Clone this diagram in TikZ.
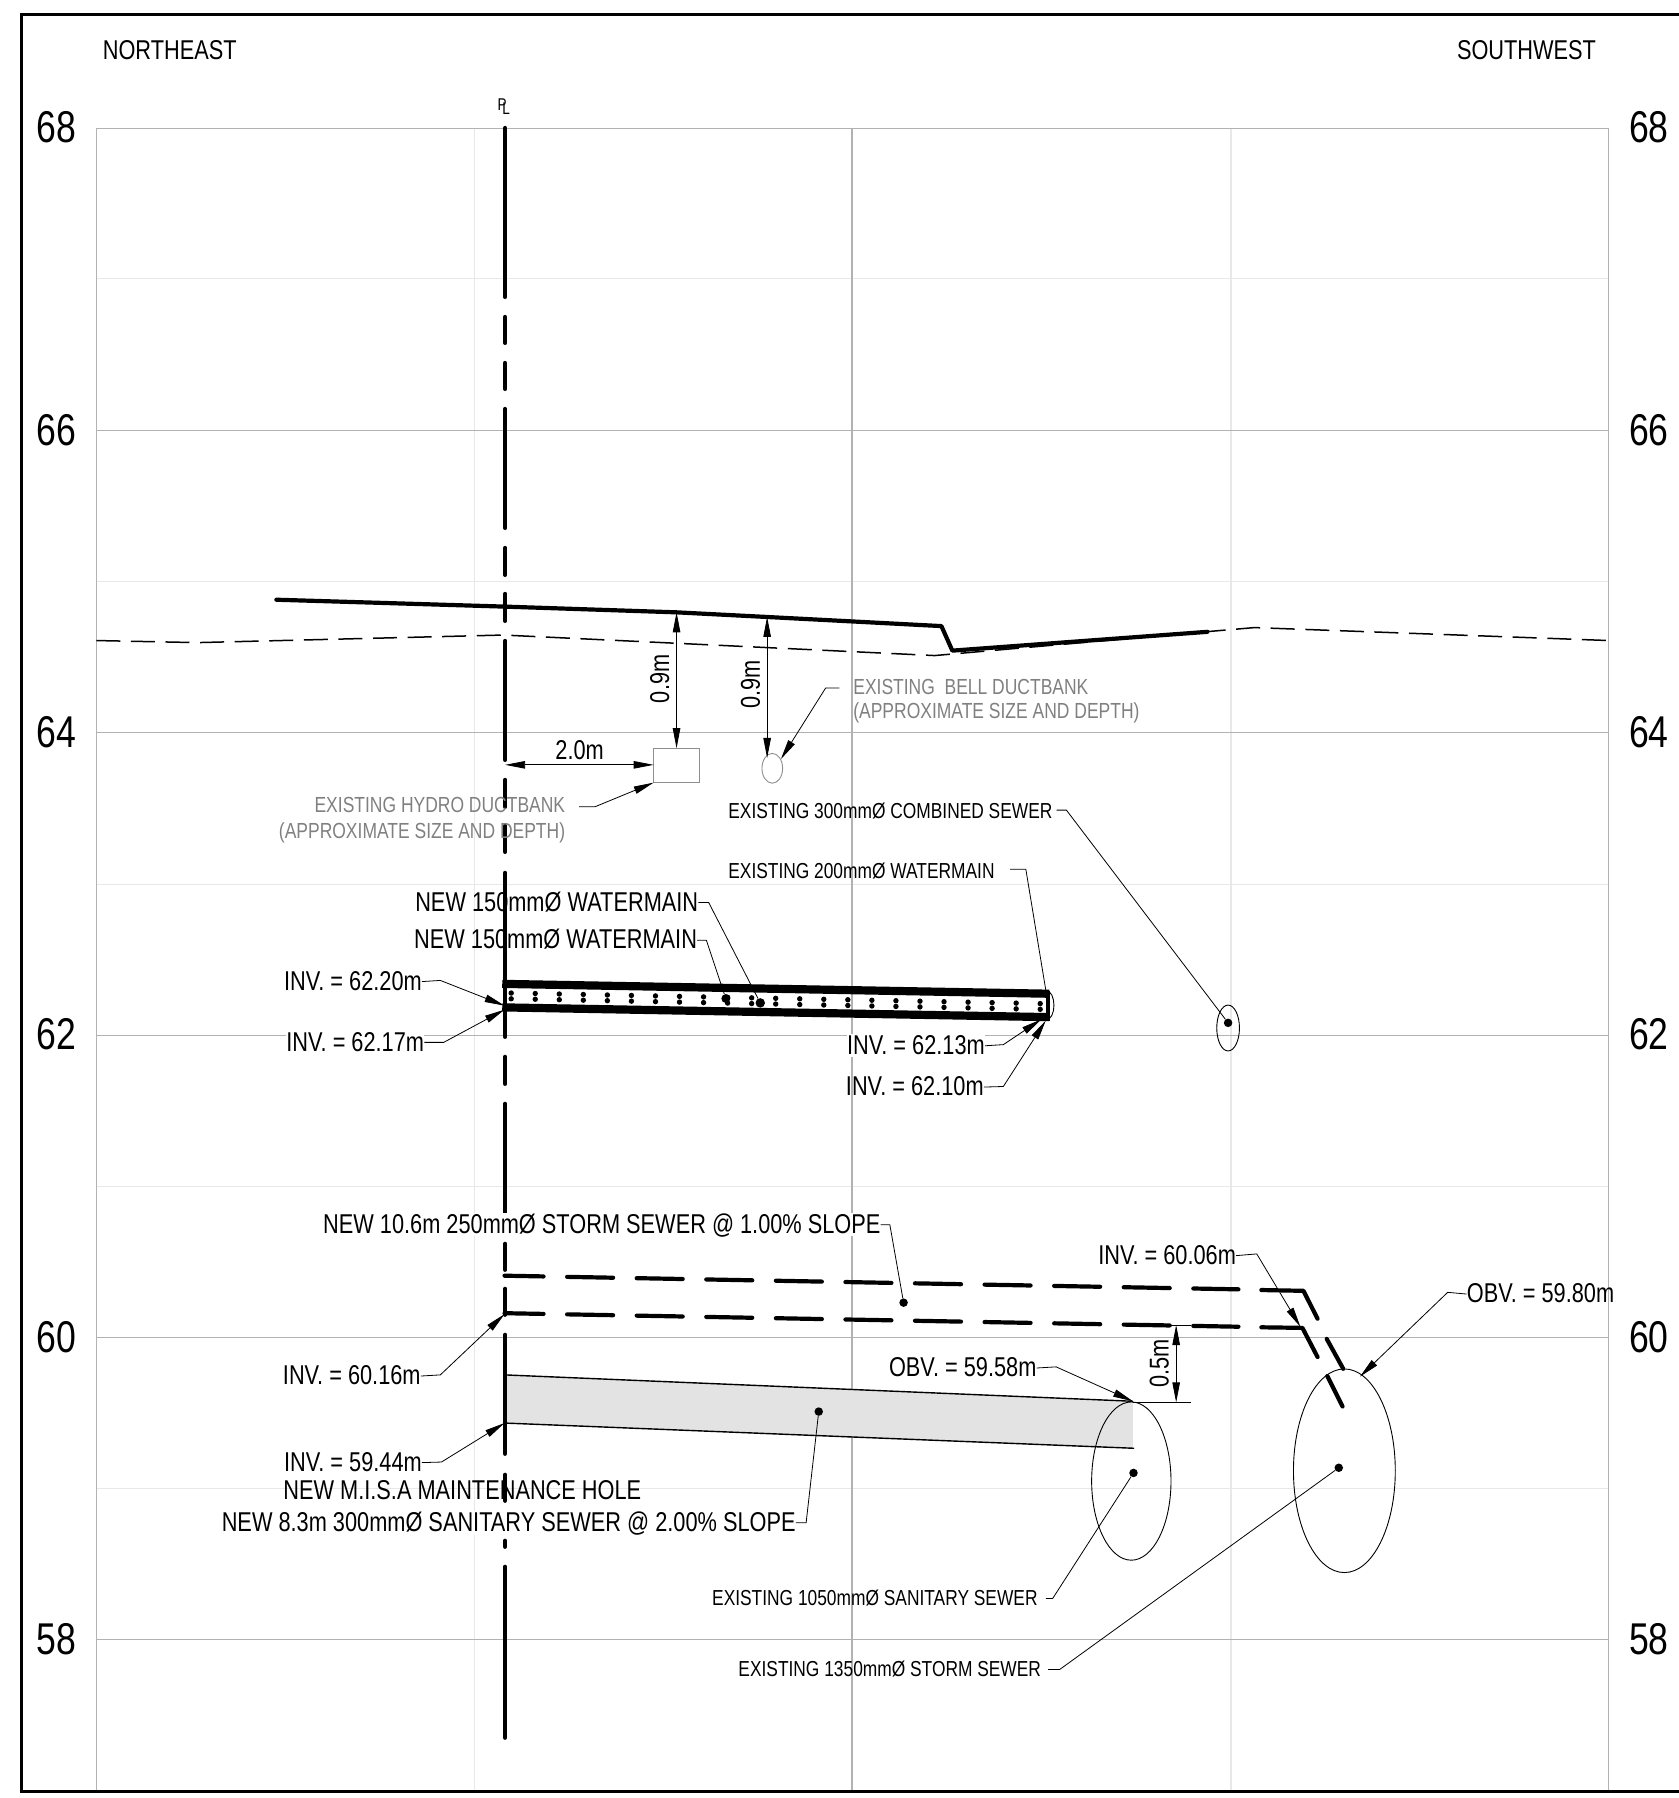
\documentclass[tikz,border=0pt]{standalone}
\usepackage{fontspec}
\setmainfont[FakeStretch=0.8]{Liberation Sans}
\usetikzlibrary{arrows.meta}
\definecolor{gridmaj}{HTML}{B2B2B2}
\definecolor{gridmin}{HTML}{E8E8E8}
\definecolor{txtgray}{HTML}{808080}
\definecolor{pipegray}{HTML}{E3E3E3}
\tikzset{
  lab/.style={inner sep=0pt,text height=19.4pt,text depth=2pt,font=\fontsize{27.2}{27.2}\selectfont},
  labs/.style={inner sep=0pt,text height=15.8pt,text depth=1pt,font=\fontsize{21.7}{21.7}\selectfont},
  labg/.style={inner sep=0pt,text height=15.5pt,text depth=1pt,text=txtgray,font=\fontsize{21.85}{21.85}\selectfont},
  axlab/.style={inner sep=0pt,text height=31.5pt,text depth=2.5pt,font=\fontsize{44.5}{44.5}\selectfont},
  masked/.style={fill=white,inner ysep=1pt,inner xsep=0pt},
  major/.style={draw=gridmaj,line width=1.1pt},
  minor/.style={draw=gridmin,line width=1.1pt},
  lead/.style={line width=0.8pt,black},
  arr/.style={-{Triangle[length=20pt,width=7.5pt]}},
  dimn/.style={line width=0.8pt,black,{Triangle[length=20pt,width=7.5pt]}-{Triangle[length=20pt,width=7.5pt]}},
  thickl/.style={line width=4.2pt,line cap=round,line join=round},
  stormd/.style={line width=4.2pt,line cap=round,dash pattern=on 46pt off 23.6pt,dash phase=7pt},
  grade/.style={line width=1.5pt,dash pattern=on 24pt off 10.6pt},
  thinell/.style={line width=0.9pt,black},
  dot/.style={fill=black,circle,inner sep=0pt,minimum size=8.5pt}
}
\begin{document}
\begin{tikzpicture}[x=1.14686pt,y=-1.14686pt]
\useasboundingbox (0,0) rectangle (1464,1568);
% grid
\foreach \yy in {243,507,771,1034.5,1298}{\draw[minor] (84,\yy) -- (1403,\yy);}
\foreach \xx in {414,1073.5}{\draw[minor] (\xx,112) -- (\xx,1562);}
\foreach \yy in {112,375.5,639,903,1166.5,1430}{\draw[major] (84,\yy) -- (1403,\yy);}
\foreach \xx in {84,743,1403}{\draw[major] (\xx,112) -- (\xx,1562);}
% frame
\draw[line width=3pt,black] (1464,13) -- (19,13) -- (19,1562) -- (1464,1562);
% axis labels
\node[axlab] (a68) at (49,112) {68};   \node[axlab] (b68) at (1438,112) {68};
\node[axlab] (a66) at (49,375.5) {66}; \node[axlab] (b66) at (1438,375.5) {66};
\node[axlab] (a64) at (49,639) {64};   \node[axlab] (b64) at (1438,639) {64};
\node[axlab] (a62) at (49,903) {62};   \node[axlab] (b62) at (1438,903) {62};
\node[axlab] (a60) at (49,1166.5) {60};\node[axlab] (b60) at (1438,1166.5) {60};
\node[axlab] (a58) at (49,1430) {58};  \node[axlab] (b58) at (1438,1430) {58};
\node[lab,anchor=west] (ne) at (89.5,44) {NORTHEAST};
\node[lab,anchor=east] (sw) at (1392,44) {SOUTHWEST};
% sanitary pipe fill
\fill[pipegray] (440,1199) -- (988,1222) -- (988,1263) -- (440,1241) -- cycle;
% property line (full pixel coordinates)
\begin{scope}[x=1pt,y=-1pt]
\foreach \aa/\bb in {128/297,317/343,363/389,409/528,548/575,594/621,641/760,780/807,826/852,873/992,1012/1037,1057/1084,1104/1213,1244/1270,1289/1315,1335/1454,1475/1501,1541/1547,1567/1738}
  {\draw[thickl] (505.2,\aa) -- (505.2,\bb);}
\end{scope}
\node[inner sep=0pt,font=\fontsize{17}{17}\selectfont] (plp) at (438,91) {P};
\node[inner sep=0pt,font=\fontsize{17}{17}\selectfont] (pll) at (441.5,95) {L};
% ground
\draw[thickl] (241,523) -- (440,529) -- (590,534) -- (668,538) -- (821,546) -- (830.5,567.4) -- (1053,551);
\draw[grade] (84,558.6) -- (172,560.4) -- (439,553.8) -- (815,571.7) -- (1053,550.8) -- (1094,547.3) -- (1403,558.6);
% hydro and bell
\draw[draw=gridmaj!80!black,line width=0.9pt] (570,652.5) rectangle (610,682.5);
\draw[draw=gridmaj!80!black,line width=0.9pt] (673.5,670) ellipse [x radius=9,y radius=13];
\coordinate (gr1) at (590,534);
\coordinate (box1) at (590,652.5);
\coordinate (gr2) at (669,538);
\coordinate (bell1) at (669,661);
\coordinate (pl1) at (440.5,667);
\coordinate (box2) at (570,667);
\draw[dimn] (gr1) -- (box1);
\draw[dimn] (gr2) -- (bell1);
\draw[dimn] (pl1) -- (box2);
\node[lab,rotate=90] (d1) at (576,592) {0.9m};
\node[lab,rotate=90] (d2) at (655,597) {0.9m};
\node[lab] (d3) at (505.5,654.5) {2.0m};
\node[labg,anchor=east] (hy1) at (493,702) {EXISTING HYDRO DUCTBANK};
\node[labg,anchor=east] (hy2) at (493,724.5) {(APPROXIMATE SIZE AND DEPTH)};
\node[labg,anchor=west] (be1) at (744,599) {EXISTING\ \ BELL DUCTBANK};
\node[labg,anchor=west] (be2) at (744,620.5) {(APPROXIMATE SIZE AND DEPTH)};
\coordinate (hytip) at (570,682.5);
\coordinate (betip) at (681,662);
\draw[lead,arr] (505,703.5) -- (519,703.5) -- (hytip);
\draw[lead,arr] (732,600) -- (720,600) -- (betip);
% watermain
\draw[line width=8.2pt] (438,858) -- (915,866.6);
\draw[line width=8.2pt] (438,878.5) -- (915,887);
\draw[line width=4pt] (440,855) -- (440,882);
\draw[line width=4.5pt] (914,864) -- (914,890);
\foreach \k in {0,...,22}{
  \fill ({445.8+20.97*\k},{866+0.418*\k}) circle[radius=2.7pt];
  \fill ({445.8+20.97*\k},{871+0.418*\k}) circle[radius=2.7pt];
}
\draw[thinell] (912,863.6) .. controls (921.5,864.5) and (921.5,889) .. (912,889.6);
\node[dot,minimum size=9.5pt] (wm1) at (663,874.6) {};
\node[dot,minimum size=9pt] (wm2) at (633,870.8) {};
\node[lab,anchor=east] (nw1) at (609,787) {NEW 150mmØ WATERMAIN};
\node[lab,anchor=east] (nw2) at (608,820) {NEW 150mmØ WATERMAIN};
\draw[lead] (nw1.east) -- (618,787) -- (wm1);
\draw[lead] (nw2.east) -- (616,820) -- (wm2);
\node[lab,anchor=east] (i1) at (368,856) {INV. = 62.20m};
\node[lab,anchor=east,masked] (i2) at (370,909) {INV. = 62.17m};
\node[lab,anchor=east,masked] (i3) at (859,912) {INV. = 62.13m};
\node[lab,anchor=east] (i4) at (858,948) {INV. = 62.10m};
\coordinate (wml1) at (440,877);
\coordinate (wml2) at (440,880.5);
\coordinate (wmr1) at (908,889);
\coordinate (wmr2) at (912,890);
\draw[lead,arr] (i1.east) -- (384,855) -- (wml1);
\draw[lead,arr] (i2.east) -- (387,909) -- (wml2);
\draw[lead,arr] (i3.east) -- (875,911) -- (wmr1);
\draw[lead,arr] (i4.east) -- (875,947.5) -- (wmr2);
% existing sewers / watermain labels
\node[labs,anchor=west] (e300) at (635,707) {EXISTING 300mmØ COMBINED SEWER};
\node[labs,anchor=west] (e200) at (635,760) {EXISTING 200mmØ WATERMAIN};
\draw[thinell] (1071,896.5) ellipse [x radius=9.9,y radius=20];
\node[dot] (c300) at (1071,892) {};
\coordinate (wm200) at (912,863.4);
\draw[lead] (921.5,706.5) -- (930,706.5) -- (c300);
\draw[lead] (881,758) -- (894.6,758) -- (wm200);
% storm sewer
\draw[stormd] (440,1112.5) -- (1080,1124.4);
\draw[stormd] (440,1145.2) -- (1080,1157);
\draw[thickl] (1100,1125) -- (1136.7,1125.7) -- (1149,1150);
\draw[thickl] (1157,1167.6) -- (1171.4,1193.7);
\draw[thickl] (1100,1157.5) -- (1135.8,1158) -- (1149,1183.4);
\draw[thickl] (1157.5,1200) -- (1170.8,1226.5);
\node[lab,anchor=east,masked] (ns) at (768,1068) {NEW 10.6m 250mmØ STORM SEWER @ 1.00\% SLOPE};
\node[dot] (ds) at (788,1136) {};
\draw[lead] (ns.east) -- (776,1068) -- (ds);
\node[lab,anchor=east] (i5) at (1078,1095) {INV. = 60.06m};
\coordinate (st1) at (1134,1157);
\draw[lead,arr] (i5.east) -- (1096,1093.5) -- (st1);
\node[lab,anchor=east] (i6) at (367,1200) {INV. = 60.16m};
\coordinate (st2) at (440,1146);
\draw[lead,arr] (i6.east) -- (384,1199) -- (st2);
% sanitary sewer
\draw[line width=1.4pt] (440,1241) -- (440,1199) -- (988,1222);
\draw[line width=1.4pt] (440,1241) -- (989,1263);
\node[lab,anchor=east] (i7) at (368,1275.5) {INV. = 59.44m};
\coordinate (sa1) at (440,1241);
\draw[lead,arr] (i7.east) -- (385,1275) -- (sa1);
\node[lab,anchor=west] (mh) at (247,1300.5) {NEW M.I.S.A MAINTENANCE HOLE};
\node[lab,anchor=east,masked] (nsa) at (694,1328) {NEW 8.3m 300mmØ SANITARY SEWER @ 2.00\% SLOPE};
\node[dot] (dsa) at (714,1231) {};
\draw[lead] (nsa.east) -- (703,1328) -- (dsa);
% big ellipses
\draw[thinell] (986.6,1291.6) ellipse [x radius=34.6,y radius=69];
\draw[thinell] (1172.4,1282.6) ellipse [x radius=44.4,y radius=88.8];
\node[dot] (c1050) at (988.5,1284.5) {};
\node[dot] (c1350) at (1167.5,1280) {};
\node[labs,anchor=east] (e1050) at (905,1394) {EXISTING 1050mmØ SANITARY SEWER};
\node[labs,anchor=east] (e1350) at (908,1456) {EXISTING 1350mmØ STORM SEWER};
\draw[lead] (912,1394) -- (918,1394) -- (c1050);
\draw[lead] (914,1456) -- (924,1456) -- (c1350);
% OBV labels
\node[lab,anchor=east] (o1) at (904,1193) {OBV. = 59.58m};
\node[lab,anchor=west] (o2) at (1279,1128.5) {OBV. = 59.80m};
\coordinate (otip1) at (988,1222);
\coordinate (otip2) at (1186,1200.5);
\draw[lead,arr] (o1.east) -- (921,1192) -- (otip1);
\draw[lead,arr] (o2.west) -- (1262.5,1127) -- (otip2);
% 0.5m dimension
\coordinate (dimt) at (1025.7,1155.5);
\coordinate (dimb) at (1025.7,1223);
\node[lab,rotate=90,masked] (d5) at (1011.5,1189) {0.5m};
\draw[dimn] (dimt) -- (dimb);
\draw[lead] (1015,1155.5) -- (1039,1155.5);
\draw[lead] (988,1223) -- (1039,1223);
\end{tikzpicture}
\end{document}
